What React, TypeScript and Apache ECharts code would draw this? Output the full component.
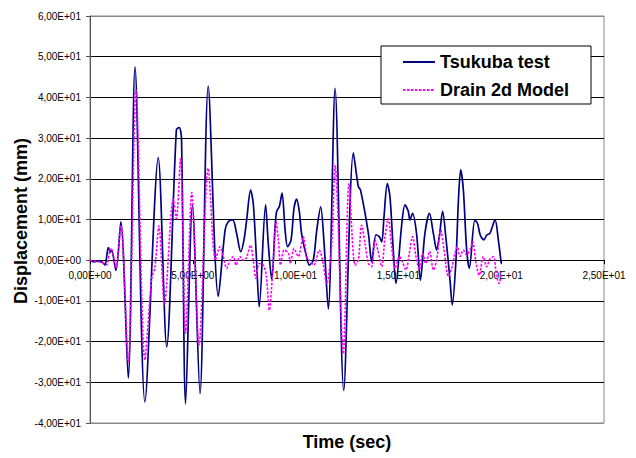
import React, { useEffect, useRef } from "react";
import * as echarts from "echarts";

const tsukubaTime = [0, 0.2, 0.4, 0.6, 0.73, 0.89, 1.0, 1.05, 1.26, 1.5, 1.86, 2.19, 2.67, 3.32, 3.73, 4.2, 4.34, 4.45, 4.65, 4.98, 5.35, 5.75, 6.24, 6.57, 6.73, 6.94, 7.13, 7.33, 7.49, 7.62, 7.81, 7.94, 8.1, 8.23, 8.54, 8.67, 8.84, 9.0, 9.08, 9.21, 9.34, 9.49, 9.61, 9.78, 9.92, 10.05, 10.18, 10.29, 10.51, 10.67, 10.86, 11.03, 11.22, 11.38, 11.59, 11.92, 12.34, 12.81, 13.05, 13.16, 13.54, 13.7, 13.91, 14.07, 14.19, 14.3, 14.46, 14.59, 14.75, 14.88, 15.16, 15.32, 15.48, 15.56, 15.69, 15.89, 16.07, 16.29, 16.51, 16.7, 16.86, 17.0, 17.15, 17.32, 17.51, 17.62, 17.8, 17.92, 18.03, 18.16, 18.32, 18.45, 18.72, 18.85, 18.98, 19.16, 19.3, 19.45, 19.7, 19.86, 20.0];
const tsukubaDisp = [0, -0.4, -0.2, -0.5, -1.2, 3.1, 2, 2.4, -2.5, 9.4, -29, 47.5, -34.8, 25.2, -21.3, 32, 32.6, 30, -35.3, 13.5, -32.8, 42.8, -8.9, 7.4, 9.5, 9.9, 6.6, 2.1, 5, 9.9, 17.2, 14, 0, -11.5, 13.6, 4.1, -4.8, 8, 12, 13.2, 16.5, 7.4, 3.3, 5, 12.7, 15, 12, 6.6, 1.3, -1.2, 0, 7.4, 13.1, 4.5, -12, 42.2, -32, 26.4, 18.1, 17.2, 6.6, -0.4, 6.2, 5.8, 4.5, 10.7, 18.8, 15.6, 2.5, -5.7, 8.7, 13.6, 12, 9.9, 11.5, 6.2, -4.9, 6.6, 11.5, 6.6, 2.5, 6.2, 12, 5, -4.9, -11, 0, 14.8, 22.2, 17.2, 2.5, -2, 9.9, 9, 6.2, 5, 6.2, 6.6, 9.9, 5, -0.8];

const drainTime = [0, 0.3, 0.6, 0.81, 1.0, 1.1, 1.26, 1.5, 1.86, 2.24, 2.67, 3.0, 3.15, 3.35, 3.62, 4.05, 4.2, 4.4, 4.65, 4.95, 5.3, 5.75, 6.1, 6.32, 6.48, 6.65, 6.81, 6.97, 7.1, 7.3, 7.45, 7.6, 7.81, 7.94, 8.07, 8.23, 8.43, 8.58, 8.72, 8.92, 9.05, 9.16, 9.27, 9.44, 9.65, 9.75, 9.92, 10.13, 10.37, 10.54, 10.67, 10.89, 11.15, 11.35, 11.51, 11.75, 11.92, 12.32, 12.6, 12.89, 13.05, 13.21, 13.38, 13.54, 13.7, 13.86, 14.0, 14.19, 14.35, 14.51, 14.67, 14.84, 15.05, 15.2, 15.37, 15.53, 15.69, 15.85, 16.02, 16.18, 16.34, 16.52, 16.7, 16.86, 17.06, 17.22, 17.43, 17.59, 17.75, 17.87, 18.0, 18.16, 18.32, 18.48, 18.61, 18.78, 18.93, 19.13, 19.29, 19.46, 19.62, 19.78, 19.9, 20.0];
const drainDisp = [0, -0.3, -0.6, -1.1, 3, 2, -2, 8.6, -25, 41.8, -24.5, -4.4, -2, 8.4, -10.8, 15, 10.2, 25, -17.9, 16.6, -20.8, 22.6, 0, 3.3, 0.9, -2, 0, 0.9, -1.2, 0.9, 0, 0.5, 3.7, 0, -4.5, -0.8, -1.2, -4, -12.3, 0, 9.4, 5, -1.2, 2.5, 1.7, -0.8, 2.9, 0.9, 5.8, 0.9, 0, -1.2, 2.5, -1.2, -5.8, 3.3, 23.4, -23, 18.9, -1.2, 0, 8.6, 4.1, -0.8, -1.6, 5, 2.5, -1.6, 5.8, 10.2, 3.3, -2, 0.9, -0.5, -2.4, 1.7, 5.8, 1, -2.4, 1.7, -0.8, 2.2, -2.4, 0, 7.4, 2.5, -4, -2, 1.7, 3.3, 0.9, 2.5, 1.3, 2.5, 4.5, -0.8, -3.7, 0.9, -1.6, 0.4, 0.9, -4, -5.7, -3];

const seriesNames = ["Tsukuba test", "Drain 2d Model"];
const xTitle = "Time (sec)";
const yTitle = "Displacement (mm)";

const xMin = 0, xMax = 25, xStep = 5;
const yMin = -40, yMax = 60, yStep = 10;

const FONT = "'Liberation Sans', Arial, sans-serif";
const GRID_H = 407;

function sci(v: number): string {
  if (v === 0) return "0,00E+00";
  const e = Math.floor(Math.log10(Math.abs(v)) + 1e-9);
  const m = v / Math.pow(10, e);
  return m.toFixed(2).replace(".", ",") + "E" + (e < 0 ? "-" : "+") + String(Math.abs(e)).padStart(2, "0");
}

function zip(t: number[], v: number[]) {
  return t.map((x, i) => [x, v[i]]);
}

export default function App() {
  const ref = useRef<HTMLDivElement>(null);
  useEffect(() => {
    if (!ref.current) return;
    const chart = echarts.init(ref.current, null, { renderer: "svg" });
    const nTicks = Math.round((yMax - yMin) / yStep) + 1;
    const gridColors = Array.from({ length: nTicks }, (_, i) => (i === 0 || i === nTicks - 1 ? "#888" : "#000"));
    // shift the x axis up so that it sits on the zero line
    const zeroOffset = -GRID_H * (0 - yMin) / (yMax - yMin);
    chart.setOption({
      animation: false,
      backgroundColor: "#fff",
      grid: {
        left: 90,
        top: 16,
        width: 514,
        height: GRID_H,
        show: true,
        borderColor: "#888",
        borderWidth: 1,
        backgroundColor: "transparent",
      },
      legend: {
        orient: "vertical",
        left: 381,
        top: 46,
        itemWidth: 32,
        itemHeight: 14,
        itemGap: 10,
        padding: [7, 22, 5, 21],
        backgroundColor: "#fff",
        borderColor: "#000",
        borderWidth: 1,
        borderRadius: 0,
        itemStyle: { opacity: 0, borderWidth: 0 },
        textStyle: { fontSize: 18, fontWeight: "bold", fontFamily: FONT, color: "#000" },
        data: seriesNames,
      },
      xAxis: {
        type: "value",
        min: xMin,
        max: xMax,
        interval: xStep,
        position: "bottom",
        offset: zeroOffset,
        axisLine: { show: true, onZero: false, lineStyle: { color: "#000", width: 1 } },
        axisTick: { show: true, inside: false, length: 4, lineStyle: { color: "#000" } },
        axisLabel: { formatter: (v: number) => sci(v), fontSize: 10, fontFamily: FONT, color: "#000", margin: 10, showMinLabel: true, showMaxLabel: true },
        splitLine: { show: false },
      },
      yAxis: {
        type: "value",
        min: yMin,
        max: yMax,
        interval: yStep,
        axisLine: { show: true, onZero: false, lineStyle: { color: "#555", width: 1 } },
        axisTick: { show: true, inside: false, length: 4, lineStyle: { color: "#555" } },
        axisLabel: { formatter: (v: number) => sci(v), fontSize: 10, fontFamily: FONT, color: "#000", margin: 9 },
        splitLine: { show: true, lineStyle: { color: gridColors, width: 1 } },
      },
      graphic: [
        {
          type: "text",
          x: 347,
          y: 442,
          style: { text: xTitle, font: `bold 18px ${FONT}`, fill: "#000", textAlign: "center", textVerticalAlign: "middle" },
        },
        {
          type: "text",
          x: 21,
          y: 221,
          rotation: Math.PI / 2,
          style: { text: yTitle, font: `bold 18px ${FONT}`, fill: "#000", textAlign: "center", textVerticalAlign: "middle" },
        },
      ],
      series: [
        {
          name: seriesNames[0],
          type: "line",
          data: zip(tsukubaTime, tsukubaDisp),
          showSymbol: false,
          symbol: "none",
          smooth: 0.3,
          z: 3,
          lineStyle: { color: "#000080", width: 1.7 },
          itemStyle: { color: "#000080" },
        },
        {
          name: seriesNames[1],
          type: "line",
          data: zip(drainTime, drainDisp),
          showSymbol: false,
          symbol: "none",
          smooth: 0.3,
          z: 4,
          lineStyle: { color: "#ff00ff", width: 1.6, type: [2.5, 1.5] },
          itemStyle: { color: "#ff00ff" },
        },
      ],
    });
    return () => chart.dispose();
  }, []);
  return <div ref={ref} style={{ position: "fixed", left: 0, top: 0, width: 636, height: 458 }} />;
}
